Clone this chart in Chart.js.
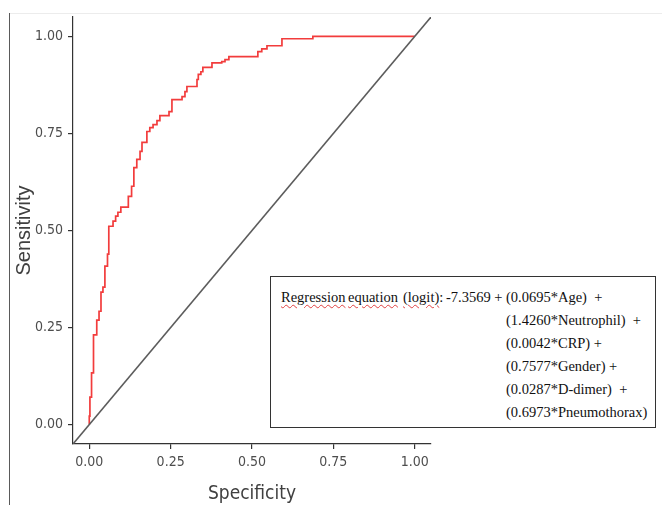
<!DOCTYPE html>
<html>
<head>
<meta charset="utf-8">
<title>ROC curve</title>
<script src="https://cdn.jsdelivr.net/npm/chart.js@4.4.1/dist/chart.umd.min.js"></script>
<style>
  html, body { margin: 0; padding: 0; background: #fff; }
  #wrap { position: relative; width: 662px; height: 505px; overflow: hidden; }
  #roc { position: absolute; left: 0; top: 0; }
  .frame-left { position: absolute; left: 9px; top: 13px; width: 1px; height: 492px; background: #5a5a5a; }
  .frame-top { position: absolute; left: 9px; top: 13px; width: 653px; height: 1px; background: #ececec; }
  .eq-box {
    position: absolute; left: 270px; top: 276px; width: 384px; height: 150px;
    border: 1px solid #333; background: #fff;
    font-family: 'Liberation Serif', 'Times New Roman', serif; font-size: 14.5px; color: #111;
  }
  .eq-box span { position: absolute; white-space: pre; line-height: 23px; }
  .squiggle {
    text-decoration-line: underline; text-decoration-style: wavy;
    text-decoration-color: #e04040; text-decoration-thickness: 1px; text-underline-offset: 2px;
  }
  .eq-terms { position: absolute; left: 235px; top: 9px; }
  .eq-terms div { white-space: pre; line-height: 23px; }
</style>
</head>
<body>
<div id="wrap">
  <div class="frame-top"></div>
  <div class="frame-left"></div>
  <canvas id="roc" width="662" height="505"></canvas>
  <div class="eq-box" id="eq-box"></div>
</div>
<script>
// ROC points: false positive rate / sensitivity at each step
const rocFpr = [0, 0, 0.002, 0.007, 0.013, 0.023, 0.030, 0.036, 0.042, 0.048, 0.056, 0.060,
  0.073, 0.081, 0.088, 0.097, 0.120, 0.130, 0.137, 0.146, 0.156, 0.162, 0.177, 0.186,
  0.196, 0.208, 0.217, 0.245, 0.254, 0.285, 0.294, 0.300, 0.331, 0.335, 0.343, 0.349,
  0.377, 0.407, 0.417, 0.429, 0.518, 0.530, 0.546, 0.592, 0.687, 1.0];
const rocTpr = [0, 0.022, 0.071, 0.133, 0.231, 0.269, 0.292, 0.341, 0.354, 0.408, 0.439, 0.511,
  0.524, 0.537, 0.547, 0.560, 0.588, 0.614, 0.662, 0.683, 0.704, 0.727, 0.755, 0.765,
  0.773, 0.783, 0.796, 0.806, 0.837, 0.845, 0.858, 0.871, 0.889, 0.902, 0.909, 0.920,
  0.932, 0.935, 0.940, 0.948, 0.961, 0.968, 0.976, 0.994, 1.0, 1.0];

// reference diagonal across the whole panel
const diagX = [-0.05, 1.05];
const diagY = [-0.05, 1.05];

const tickValues = [0, 0.25, 0.5, 0.75, 1];
const axisMin = -0.05;
const axisMax = 1.05;

// regression equation text
const eqLabelWords = ['Regression', 'equation', '(logit)'];
const eqIntercept = '-7.3569';
const eqTerms = ['(0.0695*Age)  +', '(1.4260*Neutrophil)  +', '(0.0042*CRP) +',
  '(0.7577*Gender) +', '(0.0287*D-dimer)  +', '(0.6973*Pneumothorax)'];

const box = document.getElementById('eq-box');
const wordLeft = [10, 77, 132];
eqLabelWords.forEach((w, i) => {
  const s = document.createElement('span');
  s.style.left = wordLeft[i] + 'px';
  s.style.top = '9px';
  s.innerHTML = `<span class="squiggle" style="position:static">${w}</span>` + (i === 2 ? ':' : '');
  box.appendChild(s);
});
const ic = document.createElement('span');
ic.style.left = '175px'; ic.style.top = '9px';
ic.textContent = eqIntercept + ' +';
box.appendChild(ic);
const col = document.createElement('div');
col.className = 'eq-terms';
col.innerHTML = eqTerms.map(t => `<div>${t}</div>`).join('');
box.appendChild(col);

const narrow = "'Liberation Sans Narrow', 'DejaVu Sans Condensed', 'Liberation Sans', sans-serif";
const axisColor = '#333';

const setTicks = scale => { scale.ticks = tickValues.map(v => ({ value: v })); };

new Chart(document.getElementById('roc'), {
  type: 'scatter',
  data: {
    datasets: [
      {
        data: diagX.map((x, i) => ({ x, y: diagY[i] })),
        showLine: true,
        borderColor: '#5c5c5c',
        borderWidth: 1.6,
        pointRadius: 0
      },
      {
        data: rocFpr.map((x, i) => ({ x, y: rocTpr[i] })),
        showLine: true,
        stepped: 'before',
        borderColor: '#f23c3c',
        borderWidth: 1.7,
        pointRadius: 0
      }
    ]
  },
  options: {
    responsive: false,
    animation: false,
    devicePixelRatio: 1,
    layout: { padding: { top: 17, right: 231, left: 0, bottom: 0 } },
    plugins: { legend: { display: false }, tooltip: { enabled: false } },
    scales: {
      x: {
        type: 'linear',
        min: axisMin,
        max: axisMax,
        afterBuildTicks: setTicks,
        afterFit: scale => { scale.height = 61; },
        ticks: {
          callback: v => v.toFixed(2),
          color: '#4d4d4d',
          padding: 5,
          font: { family: narrow, size: 14 }
        },
        grid: { drawOnChartArea: false, drawTicks: true, tickLength: 5, color: axisColor, lineWidth: 1.2 },
        border: { color: axisColor, width: 1.2 },
        title: {
          display: true,
          text: 'Specificity',
          color: '#404040',
          padding: { top: 0, bottom: 0 },
          font: { family: narrow, size: 19 }
        }
      },
      y: {
        type: 'linear',
        min: axisMin,
        max: axisMax,
        afterBuildTicks: setTicks,
        afterFit: scale => { scale.width = 73; },
        ticks: {
          callback: v => v.toFixed(2),
          color: '#4d4d4d',
          padding: 5,
          font: { family: narrow, size: 14 }
        },
        grid: { drawOnChartArea: false, drawTicks: true, tickLength: 5, color: axisColor, lineWidth: 1.2 },
        border: { color: axisColor, width: 1.2 },
        title: {
          display: true,
          text: 'Sensitivity',
          color: '#404040',
          padding: { top: 12, bottom: 0 },
          font: { family: "'Liberation Sans', Arial, sans-serif", size: 20 }
        }
      }
    }
  }
});
</script>
</body>
</html>
